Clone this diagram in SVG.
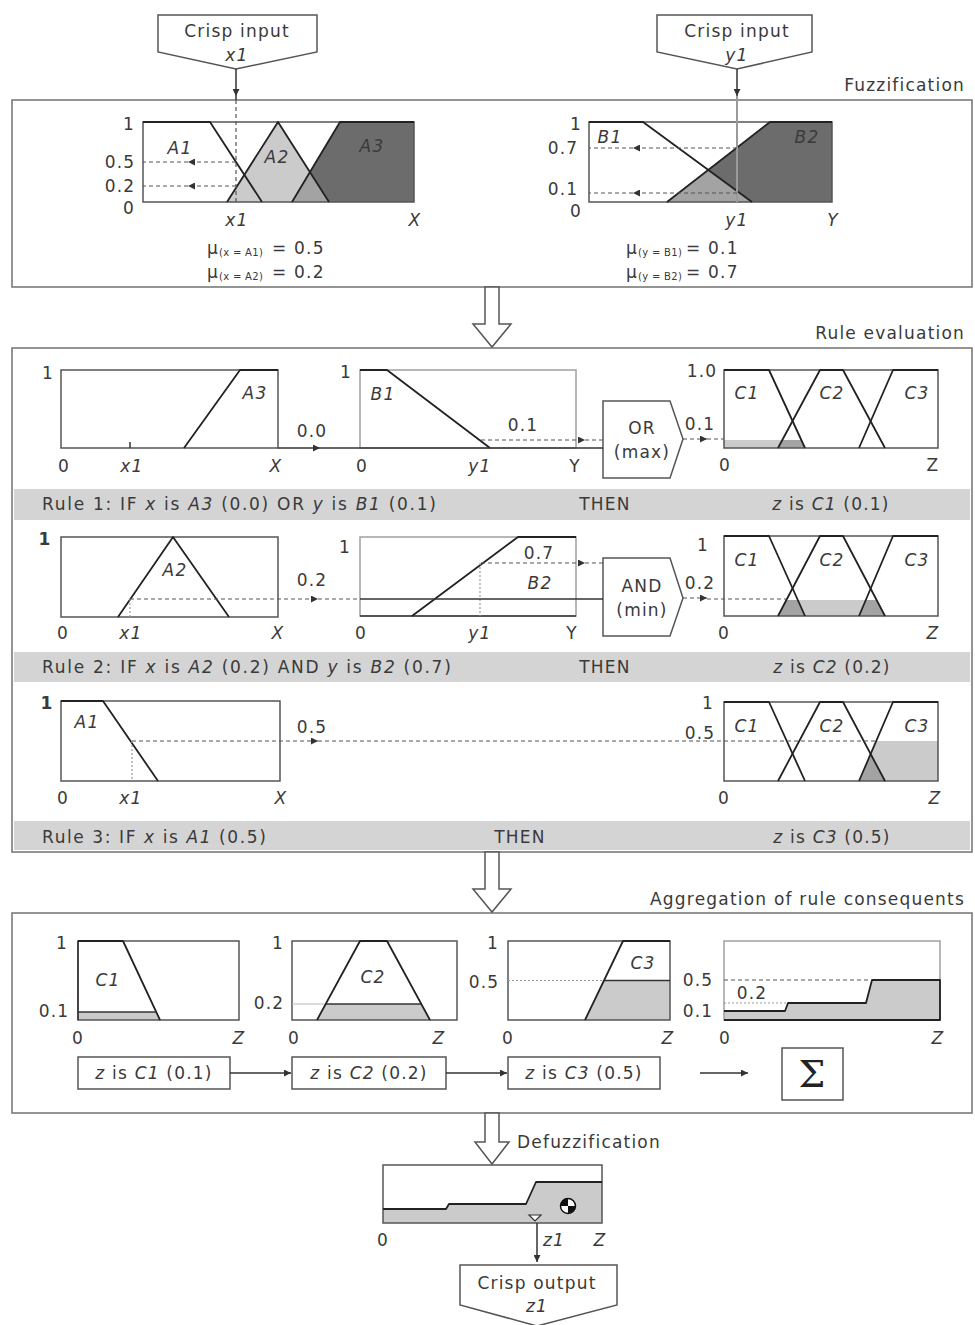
<svg xmlns="http://www.w3.org/2000/svg" width="975" height="1325" viewBox="0 0 975 1325">
<defs>
<style>
.t{font-family:"DejaVu Sans","Liberation Sans",sans-serif;font-size:17px;fill:#3a3a3a;letter-spacing:1.2px}
.i{font-style:italic}
.m{text-anchor:middle}
.e{text-anchor:end}
.b{font-weight:bold}
.sub{font-size:10px;letter-spacing:0.3px}
.frame{fill:none;stroke:#7a7a7a;stroke-width:1.6}
.plot{fill:none;stroke:#555;stroke-width:1.5}
.plotl{fill:none;stroke:#a0a0a0;stroke-width:1.5}
.mf{fill:none;stroke:#222;stroke-width:1.8;stroke-linejoin:round}
.dash{fill:none;stroke:#555;stroke-width:1.2;stroke-dasharray:4 3}
.dot{fill:none;stroke:#999;stroke-width:1.2;stroke-dasharray:2 2}
.ln{fill:none;stroke:#333;stroke-width:1.5}
.lg{fill:#cbcbcb}
.mg{fill:#a3a3a3}
.dg{fill:#6c6c6c}
.band{fill:#d4d4d4}
.box{fill:#fff;stroke:#555;stroke-width:1.5}
</style>
<marker id="ah" viewBox="0 0 10 10" refX="10" refY="5" markerWidth="9" markerHeight="7" markerUnits="userSpaceOnUse" orient="auto"><path d="M0,0 L10,5 L0,10 z" fill="#333"/></marker>
</defs>
<rect width="975" height="1325" fill="#fff"/>

<!-- Frames -->
<g id="fuzzification">
<rect class="frame" x="12" y="100" width="960" height="187"/>
<text class="t e" x="965" y="91">Fuzzification</text>
</g>
<g id="rule-evaluation">
<rect class="frame" x="12" y="348" width="960" height="504"/>
<text class="t e" x="965" y="339">Rule evaluation</text>
<rect class="band" x="14" y="489" width="956" height="31"/>
<rect class="band" x="14" y="652" width="956" height="30"/>
<rect class="band" x="14" y="821" width="956" height="29"/>
</g>
<g id="aggregation">
<rect class="frame" x="12" y="913" width="960" height="200"/>
<text class="t e" x="965" y="905">Aggregation of rule consequents</text>
</g>

<!-- Crisp inputs -->
<g id="crisp-input-x1">
<polygon class="box" points="158,15 317,15 317,52 236,69 158,52"/>
<text class="t m" x="237" y="37">Crisp input</text>
<text class="t m i" x="237" y="61">x1</text>
</g>
<g id="crisp-input-y1">
<polygon class="box" points="657,15 812,15 812,52 737,69 657,52"/>
<text class="t m" x="737" y="37">Crisp input</text>
<text class="t m i" x="737" y="61">y1</text>
</g>

<!-- Fuzzification plot X -->
<g id="fuzz-x">
<polygon class="dg" points="292,202 340,122 414,122 414,202"/>
<polygon class="lg" points="227,202 278,122 329,202"/>
<polygon class="mg" points="292,202 310,172 329,202"/>
<rect class="plot" x="143" y="122" width="271" height="80"/>
<polyline class="mf" points="143,122 210,122 262,202"/>
<polyline class="mf" points="227,202 278,122 329,202"/>
<polyline class="mf" points="292,202 340,122 414,122"/>
<text class="t m" x="129" y="130">1</text>
<text class="t m" x="120" y="168">0.5</text>
<text class="t m" x="120" y="192">0.2</text>
<text class="t m" x="129" y="214">0</text>
<text class="t m i" x="180" y="154">A1</text>
<text class="t m i" x="277" y="163">A2</text>
<text class="t m i" x="372" y="152">A3</text>
<text class="t m i" x="237" y="226">x1</text>
<text class="t m i" x="415" y="226">X</text>
<text class="t" x="207" y="254">μ<tspan class="sub" dy="2">(x = A1)</tspan><tspan dy="-2" x="272">= 0.5</tspan></text>
<text class="t" x="207" y="278">μ<tspan class="sub" dy="2">(x = A2)</tspan><tspan dy="-2" x="272">= 0.2</tspan></text>
</g>

<!-- Fuzzification plot Y -->
<g id="fuzz-y">
<polygon class="dg" points="667,202 770,122 832,122 832,202"/>
<polygon class="mg" points="667,202 708,170 752,202"/>
<rect class="plot" x="589" y="122" width="243" height="80"/>
<polyline class="mf" points="589,122 643,122 752,202"/>
<polyline class="mf" points="667,202 770,122 832,122"/>
<text class="t m" x="576" y="130">1</text>
<text class="t m" x="563" y="154">0.7</text>
<text class="t m" x="563" y="195">0.1</text>
<text class="t m" x="576" y="217">0</text>
<text class="t m i" x="610" y="143">B1</text>
<text class="t m i" x="807" y="143">B2</text>
<text class="t m i" x="737" y="226">y1</text>
<text class="t m i" x="833" y="226">Y</text>
<text class="t" x="626" y="254">μ<tspan class="sub" dy="2">(y = B1)</tspan><tspan dy="-2" x="686">= 0.1</tspan></text>
<text class="t" x="626" y="278">μ<tspan class="sub" dy="2">(y = B2)</tspan><tspan dy="-2" x="686">= 0.7</tspan></text>
</g>

<!-- Rule 1 -->
<g id="rule1-a3">
<rect class="plot" x="61" y="370" width="217" height="78"/>
<polyline class="mf" points="184,448 240,370 278,370"/>
<path class="ln" d="M130,448 V442"/>
<text class="t m" x="48" y="379">1</text>
<text class="t m i" x="255" y="399">A3</text>
<text class="t m" x="312" y="437">0.0</text>
<text class="t m" x="64" y="472">0</text>
<text class="t m i" x="132" y="472">x1</text>
<text class="t m i" x="276" y="472">X</text>
</g>
<g id="rule1-b1">
<rect class="plotl" x="360" y="370" width="216" height="78"/>
<polyline class="mf" points="360,370 387,370 490,448"/>
<text class="t m" x="346" y="378">1</text>
<text class="t m i" x="383" y="400">B1</text>
<text class="t m" x="523" y="431">0.1</text>
<text class="t m" x="362" y="472">0</text>
<text class="t m i" x="480" y="472">y1</text>
<text class="t m" x="575" y="472">Y</text>
</g>
<g id="rule1-or">
<polygon class="box" points="603,401 670,401 683,439 670,478 603,478"/>
<text class="t m" x="642" y="434">OR</text>
<text class="t m" x="642" y="458">(max)</text>
<text class="t m" x="700" y="430">0.1</text>
</g>
<g id="rule1-c">
<polygon class="lg" points="724,448 724,440 801.4,440 805,448"/>
<polygon class="mg" points="778,448 782.2,440 801.4,440 805,448"/>
<rect class="plot" x="724" y="370" width="214" height="78"/>
<polyline class="mf" points="724,370 769,370 805,448"/>
<polyline class="mf" points="778,448 820,370 843,370 885,448"/>
<polyline class="mf" points="859,448 893,370 938,370"/>
<text class="t m" x="702" y="377">1.0</text>
<text class="t m i" x="747" y="399">C1</text>
<text class="t m i" x="832" y="399">C2</text>
<text class="t m i" x="917" y="399">C3</text>
<text class="t m" x="725" y="471">0</text>
<text class="t m" x="933" y="471">Z</text>
</g>
<g id="rule1-text">
<text class="t" x="42" y="510" textLength="395" lengthAdjust="spacing">Rule 1: IF <tspan class="i">x</tspan> is <tspan class="i">A3</tspan> (0.0) OR <tspan class="i">y</tspan> is <tspan class="i">B1</tspan> (0.1)</text>
<text class="t m" x="605" y="510">THEN</text>
<text class="t m" x="831" y="510"><tspan class="i">z</tspan> is <tspan class="i">C1</tspan> (0.1)</text>
</g>

<!-- Rule 2 -->
<g id="rule2-a2">
<rect class="plot" x="61" y="537" width="217" height="80"/>
<polyline class="mf" points="118,617 173,537 229,617"/>
<path class="dot" d="M130,599 V617"/>
<text class="t m b" x="45" y="545">1</text>
<text class="t m i" x="175" y="576">A2</text>
<text class="t m" x="312" y="586">0.2</text>
<text class="t m" x="63" y="639">0</text>
<text class="t m i" x="131" y="639">x1</text>
<text class="t m i" x="278" y="639">X</text>
</g>
<g id="rule2-b2">
<rect class="plotl" x="360" y="537" width="216" height="79"/>
<path class="ln" d="M360,616 H576"/>
<polyline class="mf" points="412,616 518,537 576,537"/>
<path class="dot" d="M480,563 V616"/>
<text class="t m" x="345" y="553">1</text>
<text class="t m" x="539" y="559">0.7</text>
<text class="t m i" x="540" y="589">B2</text>
<text class="t m" x="361" y="639">0</text>
<text class="t m i" x="480" y="639">y1</text>
<text class="t m" x="572" y="639">Y</text>
</g>
<g id="rule2-and">
<polygon class="box" points="603,558 670,558 683,598 670,636 603,636"/>
<text class="t m" x="642" y="592">AND</text>
<text class="t m" x="642" y="616">(min)</text>
<text class="t m" x="700" y="589">0.2</text>
</g>
<g id="rule2-c">
<polygon class="lg" points="778,616 786.4,600 876.6,600 885,616"/>
<polygon class="mg" points="778,616 786.4,600 797.8,600 805,616"/>
<polygon class="mg" points="859,616 865.8,600 876.6,600 885,616"/>
<rect class="plot" x="724" y="536" width="214" height="80"/>
<polyline class="mf" points="724,536 769,536 805,616"/>
<polyline class="mf" points="778,616 820,536 843,536 885,616"/>
<polyline class="mf" points="859,616 893,536 938,536"/>
<text class="t m" x="703" y="551">1</text>
<text class="t m i" x="747" y="566">C1</text>
<text class="t m i" x="832" y="566">C2</text>
<text class="t m i" x="917" y="566">C3</text>
<text class="t m" x="724" y="639">0</text>
<text class="t m i" x="933" y="639">Z</text>
</g>
<g id="rule2-text">
<text class="t" x="42" y="673" textLength="410" lengthAdjust="spacing">Rule 2: IF <tspan class="i">x</tspan> is <tspan class="i">A2</tspan> (0.2) AND <tspan class="i">y</tspan> is <tspan class="i">B2</tspan> (0.7)</text>
<text class="t m" x="605" y="673">THEN</text>
<text class="t m" x="832" y="673"><tspan class="i">z</tspan> is <tspan class="i">C2</tspan> (0.2)</text>
</g>

<!-- Rule 3 -->
<g id="rule3-a1">
<rect class="plot" x="61" y="701" width="219" height="80"/>
<polyline class="mf" points="61,701 103,701 158,781"/>
<path class="dot" d="M132,741 V781"/>
<text class="t m b" x="47" y="709">1</text>
<text class="t m i" x="87" y="728">A1</text>
<text class="t m" x="312" y="733">0.5</text>
<text class="t m" x="63" y="804">0</text>
<text class="t m i" x="131" y="804">x1</text>
<text class="t m i" x="281" y="804">X</text>
</g>
<g id="rule3-c">
<polygon class="lg" points="859,781 876,741 938,741 938,781"/>
<polygon class="mg" points="859,781 870.6,754 885,781"/>
<rect class="plot" x="724" y="702" width="214" height="79"/>
<polyline class="mf" points="724,702 769,702 805,781"/>
<polyline class="mf" points="778,781 820,702 843,702 885,781"/>
<polyline class="mf" points="859,781 893,702 938,702"/>
<text class="t m" x="708" y="709">1</text>
<text class="t m" x="700" y="739">0.5</text>
<text class="t m i" x="747" y="732">C1</text>
<text class="t m i" x="832" y="732">C2</text>
<text class="t m i" x="917" y="732">C3</text>
<text class="t m" x="724" y="804">0</text>
<text class="t m i" x="935" y="804">Z</text>
</g>
<g id="rule3-text">
<text class="t" x="42" y="843" textLength="225" lengthAdjust="spacing">Rule 3: IF <tspan class="i">x</tspan> is <tspan class="i">A1</tspan> (0.5)</text>
<text class="t m" x="520" y="843">THEN</text>
<text class="t m" x="832" y="843"><tspan class="i">z</tspan> is <tspan class="i">C3</tspan> (0.5)</text>
</g>

<!-- Aggregation plots -->
<g id="agg-c1">
<polygon class="lg" points="78,1020 78,1012 156.3,1012 160,1020"/>
<rect class="plot" x="78" y="941" width="161" height="79"/>
<path class="ln" d="M78,941 V1020" stroke-width="2.5"/>
<polyline class="mf" points="78,941 123,941 160,1020"/>
<path class="ln" d="M78,1012 H156"/>
<text class="t m" x="62" y="949">1</text>
<text class="t m i" x="108" y="986">C1</text>
<text class="t m" x="54" y="1017">0.1</text>
<text class="t m" x="78" y="1044">0</text>
<text class="t m i" x="239" y="1044">Z</text>
</g>
<g id="agg-c2">
<polygon class="lg" points="317,1020 325.6,1004 421.4,1004 430,1020"/>
<rect class="plot" x="292" y="941" width="165" height="79"/>
<path d="M292,1004 H325" stroke="#bbb" stroke-width="1.2"/>
<path class="ln" d="M325.6,1004 H421.4"/>
<polyline class="mf" points="317,1020 360,941 387,941 430,1020"/>
<text class="t m" x="278" y="949">1</text>
<text class="t m i" x="373" y="983">C2</text>
<text class="t m" x="269" y="1009">0.2</text>
<text class="t m" x="294" y="1044">0</text>
<text class="t m i" x="439" y="1044">Z</text>
</g>
<g id="agg-c3">
<polygon class="lg" points="585,1020 604,980.5 670,980.5 670,1020"/>
<rect class="plot" x="508" y="941" width="162" height="79"/>
<path class="dot" d="M508,980.5 H604"/>
<path class="ln" d="M604,980.5 H670"/>
<polyline class="mf" points="585,1020 623,941 670,941"/>
<text class="t m" x="493" y="949">1</text>
<text class="t m i" x="643" y="969">C3</text>
<text class="t m" x="484" y="988">0.5</text>
<text class="t m" x="508" y="1044">0</text>
<text class="t m i" x="668" y="1044">Z</text>
</g>
<g id="agg-result">
<polygon class="lg" points="724,1020 724,1011 785,1011 788,1003 866,1003 872,980 940,980 940,1020"/>
<rect class="plotl" x="724" y="941" width="216" height="79"/>
<polyline class="mf" points="724,1011 785,1011 788,1003 866,1003 872,980 940,980 940,1020 724,1020"/>
<path class="dash" d="M724,980 H872"/>
<path class="dot" d="M724,1003 H786"/>
<text class="t m" x="698" y="986">0.5</text>
<text class="t m" x="752" y="999">0.2</text>
<text class="t m" x="698" y="1017">0.1</text>
<text class="t m" x="725" y="1044">0</text>
<text class="t m i" x="938" y="1044">Z</text>
</g>
<g id="box-c1">
<rect class="box" x="78" y="1057" width="152" height="32"/>
<text class="t m" x="154" y="1079"><tspan class="i">z</tspan> is <tspan class="i">C1</tspan> (0.1)</text>
</g>
<g id="box-c2">
<rect class="box" x="292" y="1057" width="154" height="32"/>
<text class="t m" x="369" y="1079"><tspan class="i">z</tspan> is <tspan class="i">C2</tspan> (0.2)</text>
</g>
<g id="box-c3">
<rect class="box" x="508" y="1057" width="152" height="32"/>
<text class="t m" x="584" y="1079"><tspan class="i">z</tspan> is <tspan class="i">C3</tspan> (0.5)</text>
</g>
<g id="sum">
<rect class="box" x="782" y="1048" width="61" height="52"/>
<text x="812" y="1087" text-anchor="middle" font-family="DejaVu Serif,serif" font-size="38" fill="#222">Σ</text>
</g>

<!-- Defuzzification -->
<g id="defuzz">
<text class="t" x="517" y="1148">Defuzzification</text>
<polygon class="lg" points="383,1223 383,1209 446,1209 449,1204 526,1204 536,1182 602,1182 602,1223"/>
<rect class="plot" x="383" y="1165" width="219" height="58"/>
<polyline class="mf" points="383,1209 446,1209 449,1204 526,1204 536,1182 602,1182"/>
<circle cx="568" cy="1206" r="7.5" fill="#fff" stroke="#111" stroke-width="1.5"/>
<path d="M568,1206 L568,1198.5 A7.5,7.5 0 0 0 560.5,1206 Z" fill="#111"/>
<path d="M568,1206 L568,1213.5 A7.5,7.5 0 0 0 575.5,1206 Z" fill="#111"/>
<polygon points="529,1215 541,1215 535,1221" fill="#fff" stroke="#333" stroke-width="1.2"/>
<text class="t m" x="383" y="1246">0</text>
<text class="t m i" x="554" y="1246">z1</text>
<text class="t m i" x="600" y="1246">Z</text>
</g>
<g id="crisp-output">
<polygon class="box" points="460,1265 617,1265 617,1305 537,1326 460,1305"/>
<text class="t m" x="537" y="1289">Crisp output</text>
<text class="t m i" x="537" y="1312">z1</text>
</g>

<!-- Connectors -->
<g id="connectors">
<path class="ln" d="M236,69 V96" marker-end="url(#ah)"/>
<path class="ln" d="M236,96 V100"/>
<path class="dash" d="M236,100 V202"/>
<path class="dash" d="M236,162 H188" marker-end="url(#ah)"/>
<path class="dash" d="M188,162 H143"/>
<path class="dash" d="M236,186 H188" marker-end="url(#ah)"/>
<path class="dash" d="M188,186 H143"/>
<path class="ln" d="M737,69 V96" marker-end="url(#ah)"/>
<path d="M737,96 V202" stroke="#9a9a9a" stroke-width="2"/>
<path class="dash" d="M737,148 H633" marker-end="url(#ah)"/>
<path class="dash" d="M633,148 H589"/>
<path class="dash" d="M737,193 H633" marker-end="url(#ah)"/>
<path class="dash" d="M633,193 H589"/>
<polygon points="485,287 485,324 473,324 492,347 511,324 499,324 499,287" fill="#fff" stroke="#555" stroke-width="1.5"/>
<polygon points="485,852 485,889 473,889 492,912 511,889 499,889 499,852" fill="#fff" stroke="#555" stroke-width="1.5"/>
<polygon points="485,1113 485,1142 475,1142 492,1164 509,1142 499,1142 499,1113" fill="#fff" stroke="#555" stroke-width="1.5"/>
<path class="ln" d="M278,448 H320" marker-end="url(#ah)"/>
<path class="ln" d="M320,448 H603"/>
<path class="dash" d="M481,440 H585" marker-end="url(#ah)"/>
<path class="dash" d="M585,440 H603"/>
<path class="dash" d="M683,439 H707" marker-end="url(#ah)"/>
<path class="dash" d="M707,439 H724"/>
<path class="dash" d="M130,599 H318" marker-end="url(#ah)"/>
<path class="dash" d="M318,599 H360"/>
<path class="ln" d="M360,599 H603"/>
<path class="dash" d="M481,563 H585" marker-end="url(#ah)"/>
<path class="dash" d="M585,563 H603"/>
<path class="dash" d="M683,598 H707" marker-end="url(#ah)"/>
<path class="dash" d="M707,599 H786"/>
<path class="dash" d="M132,741 H318" marker-end="url(#ah)"/>
<path class="dash" d="M318,741 H876"/>
<path class="ln" d="M230,1073 H291" marker-end="url(#ah)"/>
<path class="ln" d="M446,1073 H507" marker-end="url(#ah)"/>
<path class="ln" d="M700,1073 H748" marker-end="url(#ah)"/>
<path class="ln" d="M537,1223 V1262" marker-end="url(#ah)"/>
</g>
</svg>
